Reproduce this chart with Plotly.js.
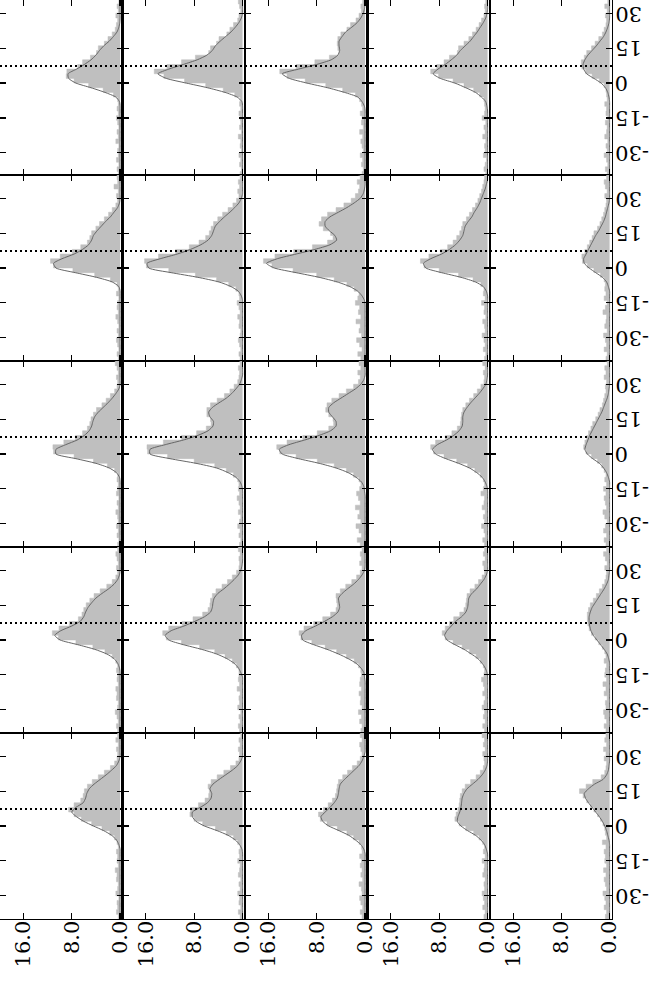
<!DOCTYPE html>
<html>
<head>
<meta charset="utf-8">
<script src="https://cdn.plot.ly/plotly-3.0.1.min.js"></script>
<style>body{margin:0;background:#fff}</style>
</head>
<body>
<div id="myDiv" style="width:667px;height:989px"></div>
<script>
// velocity bins, km/s
var vel = [-40,-38,-36,-34,-32,-30,-28,-26,-24,-22,-20,-18,-16,-14,-12,-10,-8,-6,-4,-2,0,
           2,4,6,8,10,12,14,16,18,20,22,24,26,28,30,32,34,36,38,40];

var velTicks = [-30, -15, 0, 15, 30];
var velLabels = ['-30', '-15', '0', '15', '30'];
var intTicks = [0, 8, 16];
var intLabels = ['0.0', '8.0', '16.0'];
var refVel = 7.3;

// observed spectra (histograms), one row of panels per array
var histRow1 = [
  [0.3,0.5,0.2,0.6,0.3,0.4,0.2,0.7,0.3,0.5,0.2,0.4,0.6,0.3,0.5,0.3,0.4,1.1,2.8,5.2,7.6,8.9,8.8,7.0,6.2,4.9,3.9,3.6,2.6,2.0,1.3,0.8,0.6,0.4,0.7,0.3,0.5,0.2,0.6,0.4,0.3],
  [0.4,0.2,0.5,0.3,0.6,0.2,0.4,0.3,0.7,0.2,0.5,0.3,0.4,0.6,0.3,0.5,0.4,1.3,3.2,6.1,9.6,13.0,14.6,12.5,10.1,7.8,5.6,5.3,4.3,3.9,2.6,2.1,1.5,0.8,0.6,0.3,0.5,0.7,0.2,0.4,0.3],
  [0.5,0.3,0.6,0.4,0.8,0.3,0.5,0.7,0.4,0.9,0.3,0.6,0.5,0.8,0.4,0.6,0.9,1.6,3.7,6.5,9.9,12.9,14.1,11.4,8.3,5.9,4.3,4.5,4.6,4.5,4.0,3.0,2.4,1.5,1.0,0.6,0.7,0.4,0.8,0.5,0.6],
  [0.3,0.6,0.4,0.2,0.7,0.4,0.5,0.3,0.8,0.4,0.6,0.3,0.9,0.5,0.4,0.5,0.6,1.3,2.3,3.9,5.7,8.1,9.4,8.4,7.2,6.3,5.0,4.8,3.9,3.1,2.5,1.9,1.4,1.0,0.6,0.4,0.5,0.3,0.6,0.2,0.4],
  [0.4,0.7,0.3,0.5,0.9,0.4,0.6,0.3,0.8,0.5,0.4,0.7,0.3,0.6,0.5,0.8,0.4,0.5,0.6,0.9,1.7,2.9,4.0,4.6,4.7,4.2,3.8,3.0,2.4,1.8,1.2,0.9,0.6,0.5,0.7,0.4,0.8,0.3,0.6,0.5,0.7]
];
var histRow2 = [
  [0.3,0.5,0.2,0.4,0.6,0.3,0.5,0.2,0.4,0.7,0.3,0.5,0.4,0.2,0.6,0.3,0.5,1.6,4.2,7.8,11.0,11.5,9.9,7.9,6.5,5.4,5.0,4.7,4.0,3.4,2.6,1.9,1.3,0.7,0.4,0.6,0.3,1.0,0.4,0.5,0.3],
  [0.4,0.6,0.3,0.5,0.7,0.4,0.3,0.6,0.5,0.8,0.4,0.6,0.9,0.5,0.6,1.1,2.3,4.3,7.8,12.2,15.9,16.2,13.9,11.1,8.8,7.2,6.1,5.5,5.2,4.8,4.1,3.3,2.4,1.6,1.0,0.6,0.8,0.5,0.7,0.4,0.6],
  [0.7,1.2,0.5,0.9,1.4,0.6,1.0,0.8,1.5,0.7,1.1,0.9,1.6,1.2,1.0,1.8,3.0,5.1,8.0,11.9,15.4,16.8,14.9,11.8,8.7,6.2,5.3,5.7,6.9,7.6,7.2,6.2,4.8,3.5,2.3,1.6,1.1,0.9,1.3,0.8,1.1],
  [0.5,0.3,0.7,0.4,0.6,0.9,0.4,0.5,0.8,0.3,0.6,0.5,1.0,0.4,0.7,0.6,1.1,2.4,4.8,8.0,10.5,11.1,9.7,7.8,6.6,5.7,5.1,4.6,4.3,4.1,3.5,3.0,2.5,2.0,1.6,1.3,1.0,0.8,0.6,0.5,0.4],
  [0.6,0.4,0.9,0.5,0.7,1.0,0.4,0.8,0.6,0.5,1.1,0.7,0.4,0.9,0.6,0.8,0.7,0.9,1.5,2.6,3.7,4.5,4.6,4.1,3.7,3.3,2.9,2.6,2.0,1.6,1.3,1.0,0.8,0.6,0.5,0.8,0.4,0.7,0.9,0.5,0.6]
];
var histRow3 = [
  [0.4,0.2,0.5,0.3,0.6,0.3,0.4,0.7,0.3,0.5,0.2,0.6,0.4,0.3,0.5,0.4,0.9,2.1,4.4,7.6,11.0,11.1,9.3,7.4,6.2,5.4,5.0,4.8,4.4,3.9,3.0,2.3,1.6,0.9,0.5,0.4,0.6,0.3,0.5,0.8,0.4],
  [0.5,0.3,0.6,0.4,0.8,0.5,0.3,0.7,0.4,0.6,0.9,0.5,0.7,0.6,0.8,1.5,2.7,4.6,8.0,12.4,15.7,15.8,13.1,10.1,7.6,6.0,5.2,5.3,5.9,5.9,5.3,4.2,3.0,2.1,1.4,0.8,0.6,0.5,0.7,0.4,0.6],
  [0.8,1.3,0.6,1.0,1.5,0.7,1.2,0.9,1.6,0.8,1.1,1.4,0.9,0.7,1.0,1.9,3.1,5.1,7.9,11.4,14.1,14.6,12.9,10.3,7.9,6.0,5.2,5.3,6.0,6.5,6.3,5.5,4.3,3.1,1.9,1.1,0.8,1.2,0.7,1.0,0.6],
  [0.5,0.8,0.4,0.6,1.0,0.5,0.7,0.4,0.9,0.6,0.5,1.1,0.7,0.5,0.7,1.2,2.1,3.3,5.1,7.2,8.9,9.4,8.6,7.0,5.9,5.0,4.5,4.4,4.3,4.1,3.6,3.0,2.3,1.7,1.1,0.6,0.5,0.7,0.4,0.8,0.5],
  [0.6,0.9,0.5,1.0,0.7,0.4,0.8,1.1,0.5,0.7,0.9,0.6,1.0,0.5,0.8,0.6,0.9,1.3,2.0,3.0,3.9,4.3,4.1,3.8,3.5,3.1,2.8,2.3,1.9,1.6,1.2,1.0,0.8,0.6,0.7,0.5,0.9,0.6,0.8,0.4,0.7]
];
var histRow4 = [
  [0.4,0.6,0.3,0.5,0.8,0.4,0.3,0.6,0.5,0.7,0.3,0.5,0.4,0.6,0.4,0.7,1.3,2.5,4.5,7.3,10.2,11.2,10.1,8.4,6.9,6.3,6.0,5.6,5.0,4.3,3.3,2.2,1.3,0.7,0.4,0.6,0.3,0.5,0.7,0.4,0.5],
  [0.5,0.7,0.4,0.6,0.3,0.8,0.5,0.6,0.4,0.9,0.5,0.7,0.6,0.6,1.0,1.7,2.9,4.6,7.1,10.1,12.6,13.2,12.2,10.0,8.2,6.6,5.7,5.4,5.3,5.0,4.4,3.4,2.5,1.7,1.0,0.6,0.5,0.6,0.4,0.7,0.5],
  [0.7,0.5,0.9,0.6,1.1,0.5,0.8,0.7,1.0,0.6,0.9,0.8,0.6,0.7,1.1,1.8,3.1,4.7,6.6,8.8,10.6,10.9,10.1,8.5,7.0,5.7,4.8,4.6,4.7,4.8,4.1,3.2,2.2,1.4,0.8,0.5,0.9,0.6,0.8,0.5,0.7],
  [0.5,0.8,0.4,0.7,0.5,0.9,0.6,0.4,0.8,0.5,0.7,1.0,0.6,0.5,0.7,1.2,1.9,3.0,4.2,5.7,7.0,7.5,7.0,6.3,5.6,4.6,3.9,3.6,3.5,3.4,2.9,2.1,1.5,0.9,0.5,0.6,0.8,0.4,0.7,0.5,0.6],
  [0.6,0.9,0.5,0.8,1.0,0.6,0.7,0.4,0.9,0.6,1.1,0.5,0.8,0.7,0.5,0.9,0.6,0.8,1.2,1.8,2.4,3.0,3.4,3.6,3.7,3.7,3.5,3.2,2.7,2.2,1.7,1.2,0.8,0.6,0.5,0.8,0.4,0.7,1.0,0.5,0.6]
];
var histRow5 = [
  [0.3,0.6,0.4,0.5,0.2,0.7,0.4,0.3,0.6,0.5,0.8,0.3,0.5,0.4,0.6,0.3,0.5,0.9,1.7,3.0,4.7,6.4,7.6,8.5,7.6,6.5,6.1,5.9,5.4,4.6,3.6,2.6,1.6,0.9,0.5,0.4,0.6,0.3,0.7,0.4,0.5],
  [0.4,0.7,0.3,0.6,0.5,0.8,0.4,0.6,0.3,0.7,0.5,0.4,0.8,0.5,0.6,0.4,0.8,1.5,2.7,4.5,6.6,8.0,8.7,8.6,7.3,6.2,5.6,5.5,5.7,5.2,4.2,3.1,2.0,1.1,0.6,0.5,0.7,0.4,0.6,0.3,0.5],
  [0.5,0.8,0.4,0.7,0.9,0.5,0.6,1.0,0.4,0.7,0.5,0.8,0.6,0.9,0.5,0.6,1.0,1.9,3.0,4.6,6.3,7.4,7.7,6.9,6.1,5.4,4.9,4.7,4.6,4.4,3.7,2.9,2.1,1.3,0.8,0.5,0.7,0.9,0.5,0.8,0.6],
  [0.6,0.4,0.8,0.5,0.7,0.9,0.5,0.6,0.4,0.8,0.6,0.5,0.9,0.4,0.7,0.5,0.8,1.4,2.3,3.6,4.7,5.4,5.2,4.9,4.7,4.6,4.5,4.2,3.7,2.8,1.9,1.2,0.7,0.5,0.6,0.8,0.4,0.7,0.5,0.9,0.6],
  [0.7,0.5,0.9,0.6,0.8,1.1,0.5,0.7,0.9,0.6,1.0,0.5,0.8,0.7,0.9,0.6,1.2,0.5,0.7,0.8,1.1,1.5,2.0,2.6,3.2,3.8,4.4,5.0,3.9,2.8,1.4,0.8,0.6,0.5,0.9,0.6,1.0,0.5,0.8,0.6,0.7]
];

// model fits
var fitRow1 = [
  [0,0,0,0,0,0,0,0,0,0,0,0,0,0,0,0,0.1,0.7,2.5,4.8,7.3,8.5,8.6,7.2,5.9,4.8,4.0,3.4,2.7,1.8,1.1,0.5,0.2,0.05,0,0,0,0,0,0,0],
  [0,0,0,0,0,0,0,0,0,0,0,0,0,0,0,0,0.1,0.9,2.9,5.8,9.3,12.6,14.0,12.2,9.8,7.5,5.9,5.0,4.5,3.7,2.8,1.9,1.2,0.6,0.2,0,0,0,0,0,0],
  [0,0,0,0,0,0,0,0,0,0,0,0,0,0,0,0.1,0.5,1.2,3.4,6.2,9.6,12.5,13.7,11.0,8.0,5.6,4.5,4.2,4.3,4.3,3.8,3.2,2.2,1.3,0.7,0.3,0.1,0,0,0,0],
  [0,0,0,0,0,0,0,0,0,0,0,0,0,0,0,0.1,0.3,1.0,2.0,3.6,5.4,7.8,9.0,8.2,7.0,6.0,5.1,4.5,3.7,2.9,2.3,1.7,1.2,0.7,0.3,0.1,0,0,0,0,0],
  [0,0,0,0,0,0,0,0,0,0,0,0,0,0,0,0,0,0.1,0.3,0.7,1.4,2.6,3.8,4.3,4.4,4.1,3.6,2.9,2.2,1.6,1.0,0.6,0.3,0.1,0,0,0,0,0,0,0]
];
var fitRow2 = [
  [0,0,0,0,0,0,0,0,0,0,0,0,0,0,0,0,0.2,1.3,3.9,7.4,10.6,11.0,9.6,7.6,6.2,5.2,4.7,4.4,3.8,3.1,2.4,1.6,1.0,0.4,0.1,0,0,0,0,0,0],
  [0,0,0,0,0,0,0,0,0,0,0,0,0,0,0.2,0.7,1.9,3.9,7.4,11.8,15.5,15.8,13.6,10.8,8.6,6.9,5.7,5.1,4.8,4.5,3.8,3.0,2.1,1.3,0.6,0.2,0,0,0,0,0],
  [0,0,0,0,0,0,0,0,0,0,0,0,0,0.1,0.5,1.2,2.5,4.6,7.6,11.4,15.0,16.3,14.5,11.4,8.3,5.8,4.7,5.0,5.9,6.6,6.6,5.8,4.4,3.0,1.8,0.8,0.3,0.1,0,0,0],
  [0,0,0,0,0,0,0,0,0,0,0,0,0,0,0,0.2,0.7,2.0,4.4,7.6,10.2,10.6,9.4,7.6,6.3,5.3,4.6,4.1,3.9,3.7,3.2,2.6,2.2,1.7,1.3,1.0,0.7,0.4,0.2,0,0],
  [0,0,0,0,0,0,0,0,0,0,0,0,0,0,0,0,0.2,0.5,1.2,2.3,3.4,4.2,4.3,3.9,3.5,3.1,2.7,2.3,1.8,1.4,1.0,0.7,0.5,0.3,0.1,0,0,0,0,0,0]
];
var fitRow3 = [
  [0,0,0,0,0,0,0,0,0,0,0,0,0,0,0,0.1,0.6,1.8,4.0,7.3,10.6,10.6,9.0,7.1,5.9,5.1,4.7,4.5,4.2,3.6,2.8,2.0,1.3,0.7,0.2,0,0,0,0,0,0],
  [0,0,0,0,0,0,0,0,0,0,0,0,0,0.1,0.4,1.1,2.4,4.3,7.7,12.0,15.3,15.3,12.8,9.8,7.4,5.7,4.9,4.8,5.4,5.6,5.0,3.9,2.7,1.8,1.1,0.5,0.2,0,0,0,0],
  [0,0,0,0,0,0,0,0,0,0,0,0,0.1,0.2,0.6,1.5,2.8,4.8,7.6,11.0,13.7,14.2,12.6,10.0,7.6,5.7,4.8,4.8,5.4,6.0,6.0,5.2,4.0,2.8,1.6,0.7,0.2,0,0,0,0],
  [0,0,0,0,0,0,0,0,0,0,0,0,0,0.1,0.4,0.9,1.8,3.0,4.8,6.9,8.6,9.1,8.3,6.8,5.6,4.7,4.2,4.1,4.1,3.9,3.4,2.8,2.1,1.4,0.8,0.3,0.1,0,0,0,0],
  [0,0,0,0,0,0,0,0,0,0,0,0,0,0,0,0.2,0.5,1.0,1.7,2.8,3.7,4.1,3.9,3.6,3.3,2.9,2.5,2.1,1.7,1.3,1.0,0.7,0.4,0.2,0.1,0,0,0,0,0,0]
];
var fitRow4 = [
  [0,0,0,0,0,0,0,0,0,0,0,0,0,0,0.1,0.4,1.0,2.2,4.2,7.0,9.9,10.8,9.8,8.0,6.6,6.0,5.7,5.3,4.7,4.0,3.0,1.9,1.0,0.4,0.1,0,0,0,0,0,0],
  [0,0,0,0,0,0,0,0,0,0,0,0,0,0.3,0.7,1.4,2.6,4.3,6.8,9.8,12.2,12.8,11.8,9.7,7.9,6.3,5.3,5.0,4.9,4.7,4.1,3.1,2.2,1.4,0.7,0.3,0.1,0,0,0,0],
  [0,0,0,0,0,0,0,0,0,0,0,0,0.1,0.2,0.7,1.5,2.8,4.4,6.3,8.5,10.3,10.5,9.8,8.2,6.7,5.4,4.5,4.2,4.3,4.4,3.8,2.9,1.9,1.1,0.5,0.1,0,0,0,0,0],
  [0,0,0,0,0,0,0,0,0,0,0,0,0,0.1,0.4,0.9,1.6,2.7,3.9,5.4,6.7,7.1,6.7,6.0,5.3,4.3,3.6,3.3,3.2,3.1,2.6,1.8,1.2,0.6,0.2,0,0,0,0,0,0],
  [0,0,0,0,0,0,0,0,0,0,0,0,0,0,0,0,0.15,0.4,0.9,1.5,2.1,2.7,3.1,3.3,3.4,3.4,3.2,2.9,2.4,1.9,1.4,0.9,0.5,0.2,0.1,0,0,0,0,0,0]
];
var fitRow5 = [
  [0,0,0,0,0,0,0,0,0,0,0,0,0,0,0,0,0.2,0.6,1.4,2.7,4.4,6.0,7.2,8.0,7.3,6.1,5.7,5.5,5.1,4.3,3.3,2.3,1.4,0.6,0.2,0,0,0,0,0,0],
  [0,0,0,0,0,0,0,0,0,0,0,0,0,0,0,0.1,0.5,1.2,2.4,4.2,6.3,7.7,8.3,8.3,7.0,5.8,5.2,5.1,5.4,4.9,3.9,2.8,1.7,0.8,0.3,0,0,0,0,0,0],
  [0,0,0,0,0,0,0,0,0,0,0,0,0,0,0,0.2,0.7,1.6,2.7,4.3,6.0,7.0,7.3,6.6,5.8,5.1,4.6,4.4,4.3,4.1,3.4,2.6,1.8,1.0,0.5,0.2,0,0,0,0,0],
  [0,0,0,0,0,0,0,0,0,0,0,0,0,0,0,0.2,0.5,1.1,2.0,3.3,4.4,5.0,4.9,4.6,4.4,4.3,4.2,3.9,3.4,2.5,1.6,0.9,0.4,0.1,0,0,0,0,0,0,0],
  [0,0,0,0,0,0,0,0,0,0,0,0,0,0,0,0,0,0.1,0.3,0.5,0.8,1.2,1.7,2.3,2.9,3.5,4.0,4.2,3.5,2.5,1.1,0.5,0.2,0.1,0,0,0,0,0,0,0]
];

var histRows = [histRow1, histRow2, histRow3, histRow4, histRow5];
var fitRows = [fitRow1, fitRow2, fitRow3, fitRow4, fitRow5];

// panel edges in pixels inside the plot area
var colEdges = [0, 122.5, 245, 367.5, 490, 612];
var rowEdges = [0, 175, 361, 547, 733, 919];
var plotW = 612, plotH = 919;
var labelFont = {family: 'DejaVu Serif', size: 21, color: 'black'};

var data = [];
var layout = {
  width: 667,
  height: 989,
  margin: {l: 0, r: 55, t: 0, b: 70},
  showlegend: false,
  paper_bgcolor: 'white',
  plot_bgcolor: 'white',
  font: labelFont,
  shapes: [],
  annotations: []
};

for (var r = 0; r < 5; r++) {
  for (var c = 0; c < 5; c++) {
    var k = r * 5 + c + 1;
    var sfx = (k === 1) ? '' : k;

    data.push({
      x: histRows[r][c], y: vel,
      xaxis: 'x' + sfx, yaxis: 'y' + sfx,
      mode: 'lines',
      line: {shape: 'vh', width: 0.5, color: '#bfbfbf'},
      fill: 'tozerox', fillcolor: '#bfbfbf',
      hoverinfo: 'skip'
    });
    data.push({
      x: fitRows[r][c], y: vel,
      xaxis: 'x' + sfx, yaxis: 'y' + sfx,
      mode: 'lines',
      line: {shape: 'spline', smoothing: 0.6, width: 1, color: '#666666'},
      hoverinfo: 'skip'
    });

    layout['xaxis' + sfx] = {
      domain: [colEdges[c] / plotW, colEdges[c + 1] / plotW],
      anchor: 'y' + sfx,
      range: [19.85, -0.4],
      tickmode: 'array', tickvals: intTicks, ticktext: intLabels,
      ticks: 'inside', ticklen: 6, tickwidth: 1.2, tickcolor: 'black',
      showline: true, linecolor: 'black', linewidth: 1.3, mirror: 'ticks',
      showgrid: false, zeroline: false,
      showticklabels: r === 4, tickangle: -90, ticklabelstandoff: -8,
      fixedrange: true
    };
    layout['yaxis' + sfx] = {
      domain: [1 - rowEdges[r + 1] / plotH, 1 - rowEdges[r] / plotH],
      anchor: 'x' + sfx,
      range: (r === 0) ? [-39.5, 35.7] : [-40, 40],
      tickmode: 'array', tickvals: velTicks,
      ticks: 'inside', ticklen: 6, tickwidth: 1.2, tickcolor: 'black',
      showline: true, linecolor: 'black', linewidth: 1.3, mirror: 'ticks',
      showgrid: false, zeroline: false,
      showticklabels: false,
      fixedrange: true
    };
  }

  // velocity labels right of the last column, turned upside down
  var lastAxis = 'y' + (r * 5 + 5);
  for (var t = 0; t < velTicks.length; t++) {
    layout.annotations.push({
      xref: 'paper', x: 1, xanchor: 'left', xshift: 2,
      yref: lastAxis, y: velTicks[t], yanchor: 'middle',
      text: velLabels[t], textangle: 180, showarrow: false,
      borderpad: 0, font: labelFont
    });
  }

  var rowAxis = 'y' + ((r === 0) ? '' : r * 5 + 1);
  layout.shapes.push({
    type: 'line', xref: 'paper', yref: rowAxis,
    x0: 0, x1: 1, y0: refVel, y1: refVel,
    line: {color: 'black', width: 2, dash: '2px,3px'},
    layer: 'above'
  });
}

Plotly.newPlot('myDiv', data, layout, {staticPlot: true});
</script>
</body>
</html>
